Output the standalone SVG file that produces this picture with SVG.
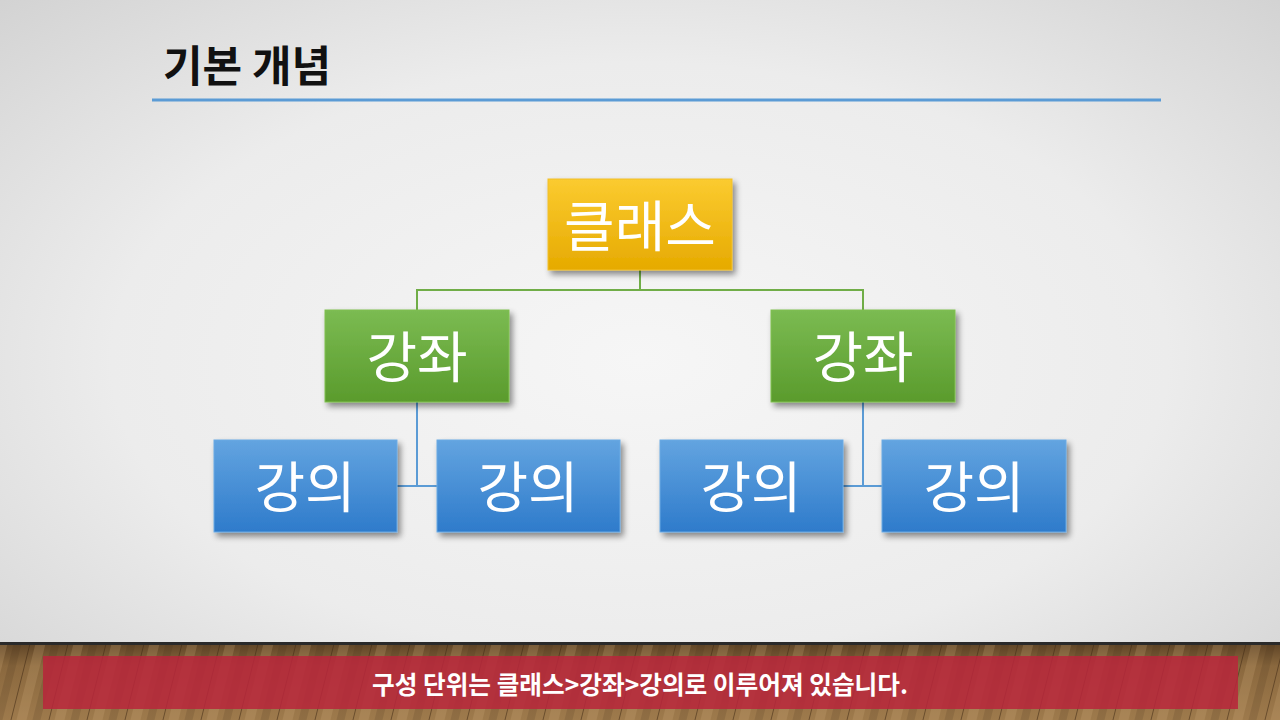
<svg xmlns="http://www.w3.org/2000/svg" width="1280" height="720" viewBox="0 0 1280 720">
<defs>
<radialGradient id="bg" cx="0.5" cy="0.5" r="0.75">
<stop offset="0" stop-color="#f6f6f6"/>
<stop offset="0.55" stop-color="#ececec"/>
<stop offset="1" stop-color="#cfcfcf"/>
</radialGradient>
<linearGradient id="gy" x1="0" y1="0" x2="0" y2="1">
<stop offset="0" stop-color="#fbcb30"/>
<stop offset="1" stop-color="#e6aa00"/>
</linearGradient>
<linearGradient id="gg" x1="0" y1="0" x2="0" y2="1">
<stop offset="0" stop-color="#7bbb52"/>
<stop offset="1" stop-color="#5a9b2c"/>
</linearGradient>
<linearGradient id="gb" x1="0" y1="0" x2="0" y2="1">
<stop offset="0" stop-color="#63a4e0"/>
<stop offset="1" stop-color="#2e7bcb"/>
</linearGradient>
<linearGradient id="wood" x1="0" y1="0" x2="0" y2="1">
<stop offset="0" stop-color="#5e4426"/>
<stop offset="0.3" stop-color="#8a683e"/>
<stop offset="1" stop-color="#9e7a4c"/>
</linearGradient>
<filter id="sh" x="-10%" y="-10%" width="125%" height="130%">
<feGaussianBlur in="SourceAlpha" stdDeviation="3"/>
<feOffset dx="3" dy="4"/>
<feComponentTransfer><feFuncA type="linear" slope="0.45"/></feComponentTransfer>
<feMerge><feMergeNode/><feMergeNode in="SourceGraphic"/></feMerge>
</filter>
<pattern id="planks" x="0" y="0" width="38" height="80" patternUnits="userSpaceOnUse" patternTransform="skewX(-14)">
<line x1="0" y1="0" x2="0" y2="80" stroke="#3e2812" stroke-width="1.4" opacity="0.8"/>
<rect x="6" y="0" width="10" height="80" fill="#d2ae7c" opacity="0.22"/>
<rect x="22" y="0" width="8" height="80" fill="#3d2712" opacity="0.15"/>
</pattern>
</defs>
<style>
.box{filter:url(#sh);}
.lbl{font-family:"Noto Sans CJK KR","Noto Sans",sans-serif;font-size:55px;fill:#ffffff;text-anchor:middle;}
.con{fill:none;stroke-width:2;}
</style>
<rect x="0" y="0" width="1280" height="720" fill="url(#bg)"/>
<g id="title">
<text x="163" y="82" font-family="Noto Sans CJK KR, Noto Sans, sans-serif" font-size="43" font-weight="bold" fill="#111111">기본 개념</text>
<line x1="152" y1="100" x2="1161" y2="100" stroke="#5b9bd5" stroke-width="3"/>
</g>
<g id="connectors">
<path class="con" stroke="#70ad47" d="M640 270 V290 M417 310 V290 H863 V310"/>
<path class="con" stroke="#5b9bd5" d="M417 402 V486 M397 486 H437 M863 402 V486 M843 486 H882"/>
</g>
<g id="n-class" class="box">
<rect x="548" y="179" width="184" height="91" fill="url(#gy)" stroke="#f2c028" stroke-width="1"/>
<text class="lbl" x="640" y="246">클래스</text>
</g>
<g id="n-course1" class="box">
<rect x="325" y="310" width="184" height="92" fill="url(#gg)" stroke="#80c050" stroke-width="1"/>
<text class="lbl" x="417" y="377">강좌</text>
</g>
<g id="n-course2" class="box">
<rect x="771" y="310" width="184" height="92" fill="url(#gg)" stroke="#80c050" stroke-width="1"/>
<text class="lbl" x="863" y="377">강좌</text>
</g>
<g id="n-lec1" class="box">
<rect x="214" y="440" width="183" height="92" fill="url(#gb)" stroke="#6aaae4" stroke-width="1"/>
<text class="lbl" x="305" y="507">강의</text>
</g>
<g id="n-lec2" class="box">
<rect x="437" y="440" width="183" height="92" fill="url(#gb)" stroke="#6aaae4" stroke-width="1"/>
<text class="lbl" x="528" y="507">강의</text>
</g>
<g id="n-lec3" class="box">
<rect x="660" y="440" width="183" height="92" fill="url(#gb)" stroke="#6aaae4" stroke-width="1"/>
<text class="lbl" x="751" y="507">강의</text>
</g>
<g id="n-lec4" class="box">
<rect x="882" y="440" width="184" height="92" fill="url(#gb)" stroke="#6aaae4" stroke-width="1"/>
<text class="lbl" x="974" y="507">강의</text>
</g>
<g id="floor">
<rect x="0" y="643" width="1280" height="77" fill="url(#wood)"/>
<rect x="0" y="643" width="1280" height="77" fill="url(#planks)"/>
<rect x="0" y="642" width="1280" height="3" fill="#2a2a2a"/>
</g>
<g id="banner">
<rect x="43" y="656" width="1195" height="53" fill="#b9263b" opacity="0.85"/>
<text x="640" y="694" font-family="Noto Sans CJK KR, Noto Sans, sans-serif" font-size="25" font-weight="bold" fill="#ffffff" text-anchor="middle" textLength="536" lengthAdjust="spacingAndGlyphs">구성 단위는 클래스&gt;강좌&gt;강의로 이루어져 있습니다.</text>
</g>
</svg>
